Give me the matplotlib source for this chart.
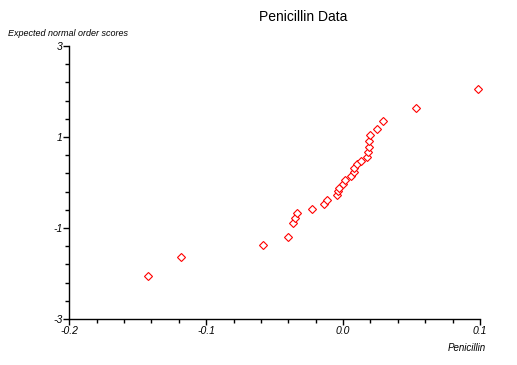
import matplotlib
matplotlib.use("Agg")
import matplotlib.pyplot as plt
import numpy as np
from matplotlib.ticker import FixedLocator, MultipleLocator

# Penicillin values against expected normal order scores
penicillin = [-0.1422, -0.1183, -0.0584, -0.0400, -0.0365, -0.0348, -0.0334,
              -0.0226, -0.0137, -0.0115, -0.0042, -0.0034, -0.0027, -0.0001,
              0.0017, 0.0061, 0.0077, 0.0083, 0.0104, 0.0131, 0.0178, 0.0180,
              0.0192, 0.0192, 0.0199, 0.0251, 0.0294, 0.0533, 0.0986]
scores = [-2.046, -1.628, -1.364, -1.188, -0.882, -0.777, -0.660, -0.572,
          -0.469, -0.374, -0.282, -0.194, -0.110, -0.040, 0.044, 0.136,
          0.224, 0.308, 0.396, 0.477, 0.565, 0.675, 0.790, 0.906, 1.043,
          1.181, 1.358, 1.628, 2.046]

x_ticks = [-0.2, -0.1, 0.0, 0.1]
x_labels = ["-0.2", "-0.1", "0.0", "0.1"]
y_ticks = [-3, -1, 1, 3]
y_labels = ["-3", "-1", "1", "3"]

plt.rcParams["font.family"] = ["Liberation Sans", "DejaVu Sans"]

fig = plt.figure(figsize=(5.17, 3.65), dpi=100)
ax = fig.add_axes([69.3 / 517, 1 - 319 / 365, (480 - 69.3) / 517, (319 - 46) / 365])

ax.plot(penicillin, scores, linestyle="none", marker="D", markersize=4,
        markerfacecolor="white", markeredgecolor="red", markeredgewidth=0.8,
        clip_on=False)

ax.set_xlim(-0.2, 0.1)
ax.set_ylim(-3, 3)
ax.spines["top"].set_visible(False)
ax.spines["right"].set_visible(False)
ax.spines["left"].set_linewidth(1)
ax.spines["bottom"].set_linewidth(1)

ax.set_xticks(x_ticks)
ax.set_xticklabels(x_labels, fontstyle="italic", fontsize=7.5)
ax.xaxis.set_minor_locator(MultipleLocator(0.02))
ax.set_yticks(y_ticks)
ax.set_yticklabels(y_labels, fontstyle="italic", fontsize=7.5)
ax.yaxis.set_minor_locator(FixedLocator(np.arange(-3, 3.01, 0.4)))
ax.tick_params(which="major", direction="out", length=4, width=1, pad=1)
ax.tick_params(which="minor", direction="out", length=3, width=1)

fig.text(303 / 517, 1 - 17 / 365, "Penicillin Data", ha="center", va="center", fontsize=10)
fig.text(8 / 517, 1 - 33 / 365, "Expected normal order scores", ha="left", va="center",
         fontsize=6.5, fontstyle="italic")
fig.text(486 / 517, 1 - 348 / 365, "Penicillin", ha="right", va="center",
         fontsize=7, fontstyle="italic")

fig.savefig("out.png", dpi=100)
